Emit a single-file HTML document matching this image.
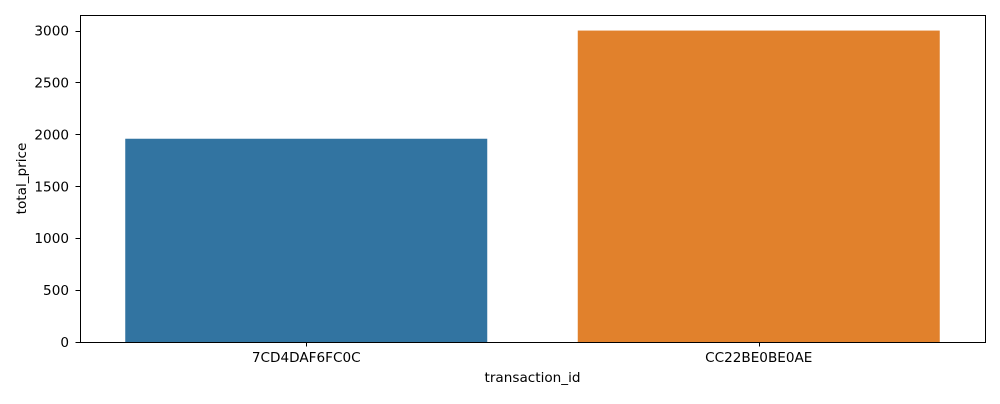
<!DOCTYPE html>
<html><head><meta charset="utf-8"><style>
body{margin:0;background:#fff;font-family:"DejaVu Sans","Liberation Sans",sans-serif;}
</style></head><body>
<svg id="chart" width="1000" height="400" xmlns="http://www.w3.org/2000/svg" font-family="DejaVu Sans, Liberation Sans, sans-serif"></svg>
<script>
const categories = ["7CD4DAF6FC0C", "CC22BE0BE0AE"];
const values = [1958, 3000];
const colors = ["#3274a1", "#e1812c"];
const yTicks = [0, 500, 1000, 1500, 2000, 2500, 3000];

const L = 80, R = 985, T = 15, B = 342;
const FS = 13.6;
const yMax = Math.max(...values) * 1.05;
const y = v => B - (v / yMax) * (B - T);
const band = (R - L) / categories.length;
const xc = i => L + band * (i + 0.5);
const svg = document.getElementById('chart');
const NS = 'http://www.w3.org/2000/svg';
function mk(tag, attrs, parent) {
  const e = document.createElementNS(NS, tag);
  for (const k in attrs) e.setAttribute(k, attrs[k]);
  (parent || svg).appendChild(e);
  return e;
}
categories.forEach((c, i) => {
  const w = band * 0.8;
  const r = mk('rect', {x: xc(i) - w / 2, y: y(values[i]), width: w, height: B - y(values[i]), fill: colors[i]});
  
  
  const xp = Math.round(xc(i)) + 0.5;
  const t = mk('line', {x1: xp, x2: xp, y1: B, y2: B + 4.5, stroke: '#000', 'stroke-width': 1});
  
  
  const lb = mk('text', {x: xc(i), y: B + 20, 'text-anchor': 'middle', 'font-size': FS, fill: '#000'});
  lb.textContent = c;
  
  
});
yTicks.forEach(v => {
  const yp = Math.round(y(v)) + 0.5;
  const t = mk('line', {x1: L - 4.5, x2: L, y1: yp, y2: yp, stroke: '#000', 'stroke-width': 1});
  
  
  const lb = mk('text', {x: L - 11, y: y(v) + 5, 'text-anchor': 'end', 'font-size': FS, fill: '#000'});
  lb.textContent = v;
  
  
});
const frame = mk('rect', {x: L + 0.5, y: T + 0.5, width: R - L, height: B - T, fill: 'none', stroke: '#000', 'stroke-width': 1});


const xt = mk('text', {x: (L + R) / 2, y: 382, 'text-anchor': 'middle', 'font-size': FS, fill: '#000'});
xt.textContent = 'transaction_id';


const yt = mk('text', {x: 0, y: 0, 'text-anchor': 'middle', 'font-size': FS, fill: '#000', transform: 'translate(26,' + ((T + B) / 2) + ') rotate(-90)'});
yt.textContent = 'total_price';


</script>
</body></html>
